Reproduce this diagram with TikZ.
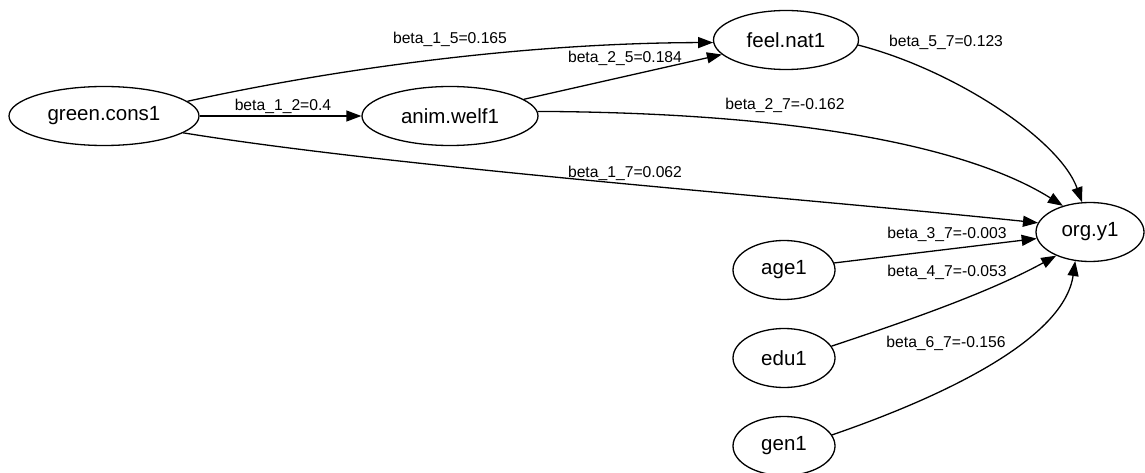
\documentclass[tikz,border=0pt]{standalone}
\usepackage{fontspec}
\setmainfont{Liberation Sans}
\usetikzlibrary{shapes.geometric,arrows.meta}
\begin{document}
\begin{tikzpicture}[x=1pt,y=1pt,
  var/.style={ellipse,draw,line width=1.3pt,inner sep=0pt,minimum height=59pt,font=\fontsize{20.5}{23}\selectfont},
  edge/.style={line width=1.3pt,-{Triangle[length=15pt,width=11pt]}},
  lab/.style={font=\fontsize{15.7}{18}\selectfont,inner sep=0pt}]
\useasboundingbox (0,0) rectangle (1145,-473);
\node[var,minimum width=190pt] (gc) at (104,-116) {green.cons1};
\node[var,minimum width=176pt] (aw) at (450,-116) {anim.welf1};
\node[var,minimum width=145pt] (fn) at (786,-40) {feel.nat1};
\node[var,minimum width=108pt] (oy) at (1090,-232) {org.y1};
\node[var,minimum width=102pt] (ag) at (784,-270) {age1};
\node[var,minimum width=102pt] (ed) at (784,-358) {edu1};
\node[var,minimum width=102pt] (ge) at (784,-446) {gen1};
\draw[edge] (gc) -- (aw);
\draw[edge] (gc.10) .. controls (330,-70) and (520,-43) .. (fn.182);
\draw[edge] (aw) -- (fn);
\draw[edge] (gc.348) .. controls (400,-168) and (800,-198) .. (oy.170);
\draw[edge] (aw.3) .. controls (850,-113) and (990,-160) .. (oy.136);
\draw[edge] (fn.356) .. controls (955,-70) and (1060,-140) .. (oy.105);
\draw[edge] (ag.8) -- (oy.187);
\draw[edge] (ed.14) .. controls (910,-320) and (990,-292) .. (oy.215);
\draw[edge] (ge.13) .. controls (948,-395) and (1064,-338) .. (oy.243);
\node[lab] (l12) at (283,-106) {beta\_1\_2=0.4};
\node[lab] (l15) at (450,-39) {beta\_1\_5=0.165};
\node[lab] (l25) at (625,-58) {beta\_2\_5=0.184};
\node[lab] (l17) at (625,-173) {beta\_1\_7=0.062};
\node[lab] (l27) at (785,-105) {beta\_2\_7=-0.162};
\node[lab] (l57) at (946,-42) {beta\_5\_7=0.123};
\node[lab] (l37) at (947,-234) {beta\_3\_7=-0.003};
\node[lab] (l47) at (947,-272) {beta\_4\_7=-0.053};
\node[lab] (l67) at (946,-343) {beta\_6\_7=-0.156};
\end{tikzpicture}
\end{document}
